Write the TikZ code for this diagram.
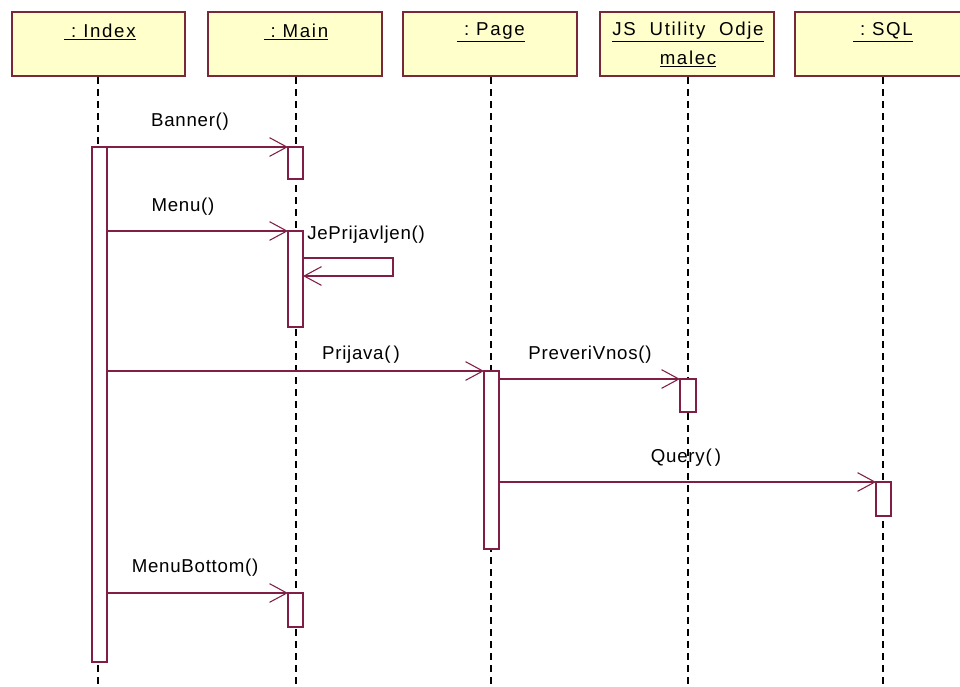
\documentclass[tikz,border=0pt]{standalone}
\usepackage{fontspec}
\setmainfont{Liberation Sans}
\usetikzlibrary{arrows.meta}
\definecolor{msgline}{RGB}{128,30,70}
\definecolor{boxline}{RGB}{120,40,55}
\definecolor{boxfill}{RGB}{255,255,204}
\newfontfamily\headfont[LetterSpace=9]{Liberation Sans}
\newfontfamily\msgfont[LetterSpace=4]{Liberation Sans}
\tikzset{
  objbox/.style={draw=boxline, fill=boxfill, line width=1.4pt},
  objlabel/.style={font=\headfont\fontsize{14}{16}\selectfont, align=center, inner sep=0pt},
  lifeline/.style={draw=black, line width=1.1pt, dash pattern=on 5pt off 4pt},
  actbox/.style={draw=msgline, fill=white, line width=1pt},
  msg/.style={draw=msgline, line width=1pt, -{Straight Barb[length=13pt, width=14pt, line width=0.8pt]}},
  msglabel/.style={font=\msgfont\fontsize{14}{16}\selectfont, inner sep=0pt}
}
\newcommand{\ul}[1]{\underline{#1}}
\begin{document}
\begin{tikzpicture}[x=0.75pt, y=-0.75pt]
\useasboundingbox (0,0) rectangle (960,686);
\clip (0,0) rectangle (960,686);
\fill[white] (0,0) rectangle (960,686);

% object heads
\draw[objbox] (12,12) rectangle (185,76);
\draw[objbox] (208,12) rectangle (382,76);
\draw[objbox] (403,12) rectangle (577,76);
\draw[objbox] (600,12) rectangle (774,76);
\draw[objbox] (795,12) rectangle (975,76);
\node[objlabel] (hIndex) at (100,32) {\ul{\ :\ Index}};
\node[objlabel] (hMain) at (296,32) {\ul{\ :\ Main}};
\node[objlabel] (hPage) at (491,32) {\ul{\ :\ Page}};
\node[objlabel] (hJS1) at (688,32) {\ul{JS\ \ Utility\ \ Odje}};
\node[objlabel] (hJS2) at (688,59) {\ul{malec}};
\node[objlabel] (hSQL) at (883,32) {\ul{\ :\ SQL}};

% lifelines
\foreach \x in {98,296,491,688,883}
  \draw[lifeline] (\x,77) -- (\x,686);

% activation bars
\draw[actbox] (92,147) rectangle (107,662);
\draw[actbox] (288,147) rectangle (303,179);
\draw[actbox] (288,231) rectangle (303,327);
\draw[actbox] (484,371) rectangle (499,549);
\draw[actbox] (680,379) rectangle (696,412);
\draw[actbox] (876,482) rectangle (891,516);
\draw[actbox] (288,593) rectangle (303,627);

% message anchors
\coordinate (iBanner) at (107,147);
\coordinate (mBanner) at (288,147);
\coordinate (iMenu) at (107,231);
\coordinate (mMenu) at (288,231);
\coordinate (sOut) at (303,258);
\coordinate (sIn) at (303,276);
\coordinate (iPrijava) at (107,371);
\coordinate (pPrijava) at (484,371);
\coordinate (pPreveri) at (499,379);
\coordinate (jPreveri) at (680,379);
\coordinate (pQuery) at (499,482);
\coordinate (sQuery) at (876,482);
\coordinate (iBottom) at (107,593);
\coordinate (mBottom) at (288,593);

% messages
\draw[msg] (iBanner) -- (mBanner);
\draw[msg] (iMenu) -- (mMenu);
\draw[msg] (sOut) -- (393,258) -- (393,276) -- (sIn);
\draw[msg] (iPrijava) -- (pPrijava);
\draw[msg] (pPreveri) -- (jPreveri);
\draw[msg] (pQuery) -- (sQuery);
\draw[msg] (iBottom) -- (mBottom);

% message labels
\node[msglabel] (lBanner) at (190,122) {Banner()};
\node[msglabel] (lMenu) at (183,207) {Menu()};
\node[msglabel, anchor=west] (lJe) at (307,235) {JePrijavljen()};
\node[msglabel] (lPrijava) at (361,355) {Prijava(\,)};
\node[msglabel] (lPreveri) at (590,355) {PreveriVnos()};
\node[msglabel] (lQuery) at (686,458) {Query(\,)};
\node[msglabel] (lBottom) at (195,568) {MenuBottom()};
\end{tikzpicture}
\end{document}
